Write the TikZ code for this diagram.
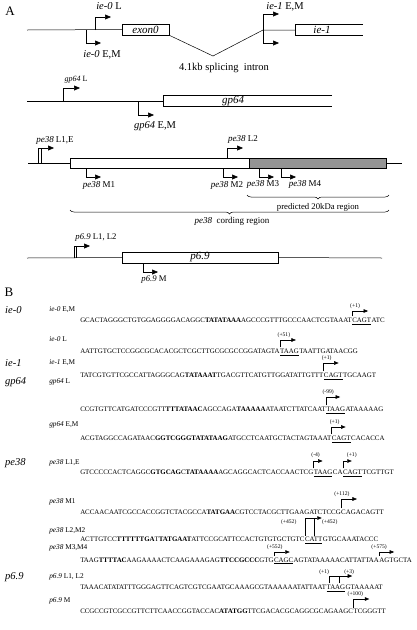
\documentclass[tikz,border=0pt]{standalone}
\usepackage{fontspec}
\setmainfont{Liberation Serif}
\usepackage{tikz}
\usetikzlibrary{arrows.meta}
\usetikzlibrary{calc}
\usetikzlibrary{decorations.pathreplacing}

\tikzset{
  genebox/.style={draw, inner sep=0pt, minimum height=11pt, font=\fontsize{11}{12}\selectfont\itshape},
  promA/.style={-{Triangle[length=6pt,width=5pt]}},
  promB/.style={-{Triangle[length=4.5pt,width=3.6pt]}},
  seq/.style={inner sep=0pt, anchor=base west, font=\fontsize{6.9}{8}\selectfont},
  plbl/.style={inner sep=0pt, font=\fontsize{5.6}{7}\selectfont},
  tlbl/.style={inner sep=0pt, anchor=west, font=\fontsize{7.3}{8}\selectfont},
  glbl/.style={inner sep=0pt, anchor=west, font=\fontsize{10.5}{12}\selectfont\itshape},
  brc/.style={decorate, decoration={brace, amplitude=4pt, mirror}},
}

\begin{document}
\begin{tikzpicture}[x=1pt, y=-1pt, line width=0.5pt]
    \useasboundingbox (0,0) rectangle (416,630);

    \node[font=\fontsize{13}{14}\selectfont] (pA) at (10,11) {A};

    \node[genebox, minimum width=47pt] (exon0) at (145.5,29.5) {exon0};
    \draw (27,30) -- (exon0.west);
    \draw (exon0.south east) -- (213,56) coordinate (vtip) -- (263,30) coordinate (ie1p) -- (295,30);
    \draw (363,24) -- (295,24) -- (295,35) -- (363,35);
    \node[font=\fontsize{11}{12}\selectfont\itshape] (ie1) at (322,29.5) {ie-1};
    \draw[promA] (95,30) -- (95,17) -- (111,17);
    \draw[promA] (86,30) -- (86,43) -- (101,43);
    \draw[promA] (ie1p) -- (263,14) -- (279,14);
    \draw[promA] (ie1p) -- (263,43) -- (279,43);
    \node[font=\fontsize{10.5}{12}\selectfont] (ie0L) at (109,6) {\textit{ie-0} L};
    \node[font=\fontsize{10.5}{12}\selectfont] (ie0EM) at (102,55) {\textit{ie-0} E,M};
    \node[font=\fontsize{10.5}{12}\selectfont] (ie1EM) at (285,7) {\textit{ie-1} E,M};
    \node[font=\fontsize{10.5}{12}\selectfont] (intron) at (224,68) {4.1kb splicing\ \ intron};

    \draw (27,101) -- (163,101);
    \draw (332,95.5) -- (163,95.5) -- (163,106.5) -- (332,106.5);
    \node[font=\fontsize{11}{12}\selectfont\itshape] (gp64) at (233,101) {gp64};
    \draw[promA] (63,101) -- (63,88) -- (80,88);
    \draw[promA] (138,101) -- (138,115) -- (154,115);
    \node[font=\fontsize{8}{9}\selectfont] (gp64L) at (76,80) {\textit{gp64} L};
    \node[font=\fontsize{10.5}{12}\selectfont] (gp64EM) at (155,126) {\textit{gp64} E,M};

    \node[draw, inner sep=0pt, minimum width=179pt, minimum height=10pt] (pe38) at (159.5,163) {};
    \node[draw, fill=black!42, inner sep=0pt, minimum width=137pt, minimum height=10pt] (kda) at (317.5,163) {};
    \draw (28,163) -- (pe38.west);
    \draw (kda.east) -- (402,163);
    \draw[promA] (38,163) -- (38,148) -- (54,148);
    \draw (41,163) -- (41,148);
    \draw[promA] (227,158) -- (227,148) -- (243,148);
    \draw[promA] (86,168) -- (86,177) -- (101,177);
    \draw[promA] (223,168) -- (223,177) -- (238,177);
    \draw[promA] (259,168) -- (259,177) -- (274,177);
    \draw[promA] (281,168) -- (281,177) -- (296,177);
    \node[font=\fontsize{9}{10}\selectfont] (pe38L1E) at (55,140) {\textit{pe38} L1,E};
    \node[font=\fontsize{9}{10}\selectfont] (pe38L2) at (243,139) {\textit{pe38} L2};
    \node[font=\fontsize{9}{10}\selectfont] (pe38M1) at (99,185) {\textit{pe38} M1};
    \node[font=\fontsize{9}{10}\selectfont] (pe38M2) at (227,185) {\textit{pe38} M2};
    \node[font=\fontsize{9}{10}\selectfont] (pe38M3) at (263,184) {\textit{pe38} M3};
    \node[font=\fontsize{9}{10}\selectfont] (pe38M4) at (305,184) {\textit{pe38} M4};
    \draw[brc] (247,195) -- (389,195);
    \node[font=\fontsize{8.7}{10}\selectfont] (kdalbl) at (318,207) {predicted 20kDa region};
    \draw[brc] (70,210) -- (389,210);
    \node[font=\fontsize{9}{10}\selectfont] (codlbl) at (232,221) {\textit{pe38}\ \ cording region};

    \node[genebox, minimum width=156pt] (p69) at (200,257.5) {p6.9};
    \draw (27,258) -- (p69.west);
    \draw (p69.east) -- (382,258);
    \draw[promA] (74,258) -- (74,246) -- (90,246);
    \draw (76.5,258) -- (76.5,246);
    \draw[promA] (143,263) -- (143,272) -- (158,272);
    \node[font=\fontsize{8.7}{10}\selectfont] (p69L) at (96,238) {\textit{p6.9} L1, L2};
    \node[font=\fontsize{8.7}{10}\selectfont] (p69M) at (154,280) {\textit{p6.9} M};

    \node[font=\fontsize{13}{14}\selectfont] (pB) at (9,292) {B};

    \node[glbl] (gie0) at (5,310) {ie-0};
    \node[glbl] (gie1) at (5,363) {ie-1};
    \node[glbl] (ggp64) at (5,382) {gp64};
    \node[glbl] (gpe38) at (5,463) {pe38};
    \node[glbl] (gp69) at (5,577) {p6.9};

    \node[tlbl] (tie0EM) at (49,310) {\textit{ie-0} E,M};
    \node[tlbl] (tie0L) at (49,339) {\textit{ie-0} L};
    \node[tlbl] (tie1EM) at (49,363) {\textit{ie-1} E,M};
    \node[tlbl] (tgp64L) at (49,382) {\textit{gp64} L};
    \node[tlbl] (tgp64EM) at (49,425) {\textit{gp64} E,M};
    \node[tlbl] (tpe38L1E) at (49,463) {\textit{pe38} L1,E};
    \node[tlbl] (tpe38M1) at (49,502) {\textit{pe38} M1};
    \node[tlbl] (tpe38L2M2) at (49,531) {\textit{pe38} L2,M2};
    \node[tlbl] (tpe38M3M4) at (49,548) {\textit{pe38} M3,M4};
    \node[tlbl] (tp69L) at (49,577) {\textit{p6.9} L1, L2};
    \node[tlbl] (tp69M) at (49,601) {\textit{p6.9} M};

    \node[seq] (s1a) at (80,322.3) {GCACTAGGGCTGTGGAGGGGACAGGC\textbf{TATATAAA}AGCCCGTTTGCCCAACTCGTAAAT};
    \node[seq] (s1b) at (s1a.base east) {\underline{CAGT}};
    \node[seq] (s1c) at (s1b.base east) {ATC};
    \draw[promB] ([yshift=1pt]s1b.north west) -- (s1b.north west |- 0,311) coordinate (t1) -- ++(16,0);
    \node[plbl] (n1) at ($(t1)+(3,-5)$) {(+1)};

    \node[seq] (s2a) at (80,353.3) {AATTGTGCTCCGGCGCACACGCTCGCTTGCGCGCCGGATAGTA};
    \node[seq] (s2b) at (s2a.base east) {\underline{TAAG}};
    \node[seq] (s2c) at (s2b.base east) {TAATTGATAACGG};
    \draw[promB] ([yshift=1pt]s2b.north west) -- (s2b.north west |- 0,340) coordinate (t2) -- ++(16,0);
    \node[plbl] (n2) at ($(t2)+(4,-5)$) {(+51)};

    \node[seq] (s3a) at (80,377.3) {TATCGTGTTCGCCATTAGGGCAG\textbf{TATAAAT}TGACGTTCATGTTGGATATTGTTT};
    \node[seq] (s3b) at (s3a.base east) {\underline{CAGT}};
    \node[seq] (s3c) at (s3b.base east) {TGCAAGT};
    \draw[promB] ([yshift=1pt]s3b.north west) -- (s3b.north west |- 0,363) coordinate (t3) -- ++(15,0);
    \node[plbl] (n3) at ($(t3)+(3,-5)$) {(+1)};

    \node[seq] (s4a) at (80,411.3) {CCGTGTTCATGATCCCGTT\textbf{TTTATAAC}AGCCAGA\textbf{TAAAAA}ATAATCTTATCAAT};
    \node[seq] (s4b) at (s4a.base east) {\underline{TAAG}};
    \node[seq] (s4c) at (s4b.base east) {ATAAAAAG};
    \draw[promB] ([yshift=1pt]s4b.north west) -- (s4b.north west |- 0,397) coordinate (t4) -- ++(14,0);
    \node[plbl] (n4) at ($(t4)+(2,-5)$) {(-99)};

    \node[seq] (s5a) at (80,440.3) {ACGTAGGCCAGATAAC\textbf{GGTCGGGTATATAAG}ATGCCTCAATGCTACTAGTAAAT};
    \node[seq] (s5b) at (s5a.base east) {\underline{CAGT}};
    \node[seq] (s5c) at (s5b.base east) {CACACCA};
    \draw[promB] ([yshift=1pt]s5b.north west) -- (s5b.north west |- 0,427) coordinate (t5) -- ++(14,0);
    \node[plbl] (n5) at ($(t5)+(3,-5)$) {(+1)};

    \node[seq] (s6a) at (80,474.3) {GTCCCCCACTCAGGC\textbf{GTGCAG}C\textbf{TATAAAA}AGCAGGCACTCACCAACTCG};
    \node[seq] (s6b) at (s6a.base east) {\underline{TAAG}};
    \node[seq] (s6c) at (s6b.base east) {CA};
    \node[seq] (s6d) at (s6c.base east) {\underline{CAGT}};
    \node[seq] (s6e) at (s6d.base east) {TCGTTGT};
    \draw[promB] ([yshift=1pt]s6b.north west) -- (s6b.north west |- 0,461) coordinate (t6a) -- ++(9,0);
    \draw[promB] ([yshift=1pt]s6d.north west) -- (s6d.north west |- 0,461) coordinate (t6b) -- ++(9,0);
    \node[plbl] (n6a) at ($(t6a)+(2,-6)$) {(-4)};
    \node[plbl] (n6b) at ($(t6b)+(9,-6)$) {(+1)};

    \node[seq] (s7a) at (80,514.3) {ACCAACAATCGCCACCGGTCTACGCCA\textbf{TATGAA}CGTCCTACGCTTGAAGATCTCCG};
    \node[seq] (s7b) at (s7a.base east) {CAGACAGTT};
    \draw[promB] ([yshift=1pt]s7b.north west) -- (s7b.north west |- 0,499) coordinate (t7) -- ++(16,0);
    \node[plbl] (n7) at ($(t7)+(1,-5)$) {(+112)};

    \node[seq] (s8a) at (80,541.8) {ACTTGTCC\textbf{TTTTTTGA}T\textbf{TATGAAT}ATTCCGCATTCCACTGTGTGCTGTC};
    \node[seq] (s8b) at (s8a.base east) {\underline{CATT}};
    \node[seq] (s8c) at (s8b.base east) {GTGCAAATACCC};
    \coordinate (m8) at ($(s8b.north west)!0.55!(s8b.north east)$);
    \draw[promB] ([yshift=1pt]s8b.north west) -- (s8b.north west |- 0,518) coordinate (t8) -- ++(17,0);
    \draw ([yshift=1pt]m8) -- (m8 |- 0,518);
    \node[plbl] (n8a) at ($(t8)+(-16,4)$) {(+452)};
    \node[plbl] (n8b) at ($(t8)+(25,4)$) {(+452)};

    \node[seq] (s9a) at (80,562) {TAAG\textbf{TTTTAC}AAGAAAACTCAAGAAAGAG\textbf{TTCCGCCC}GTG};
    \node[seq] (s9b) at (s9a.base east) {\underline{CAGC}};
    \node[seq] (s9c) at (s9b.base east) {AGTATAAAAACATTATTAA};
    \node[seq] (s9d) at (s9c.base east) {AGTGCTA};
    \draw[promB] ([yshift=1pt]s9b.north west) -- (s9b.north west |- 0,552) coordinate (t9a) -- ++(16,0);
    \draw[promB] ([yshift=1pt]s9d.north west) -- (s9d.north west |- 0,552) coordinate (t9b) -- ++(15,0);
    \node[plbl] (n9a) at ($(t9a)+(1,-4.6)$) {(+552)};
    \node[plbl] (n9b) at ($(t9b)+(0,-4.6)$) {(+575)};

    \node[seq] (s10a) at (80,589.3) {TAAACATATATTTGGGAGTTCAGTCGTCGAATGCAAAGCGTAAAAAATATTAAT};
    \node[seq] (s10b) at (s10a.base east) {\underline{TAAG}};
    \node[seq] (s10c) at (s10b.base east) {GTAAAAAT};
    \coordinate (m10a) at ($(s10b.north west)!0.15!(s10b.north east)$);
    \coordinate (m10b) at ($(s10b.north west)!0.65!(s10b.north east)$);
    \draw[promB] ([yshift=1pt]m10a) -- (m10a |- 0,576) coordinate (t10) -- ++(23,0);
    \draw ([yshift=1pt]m10b) -- (m10b |- 0,576);
    \node[plbl] (n10a) at ($(t10)+(-5,-4)$) {(+1)};
    \node[plbl] (n10b) at ($(t10)+(20,-4)$) {(+3)};

    \node[seq] (s11a) at (80,613.5) {CCGCCGTCGCCGTTCTTCAACCGGTACCAC\textbf{ATATGG}TTCGACACGCAGGCGCAGAAGC};
    \node[seq] (s11b) at (s11a.base east) {TCGGGTT};
    \draw[promB] ([yshift=1pt]s11b.north west) -- (s11b.north west |- 0,599) coordinate (t11) -- ++(16,0);
    \node[plbl] (n11) at ($(t11)+(2,-4.4)$) {(+100)};
\end{tikzpicture}
\end{document}
